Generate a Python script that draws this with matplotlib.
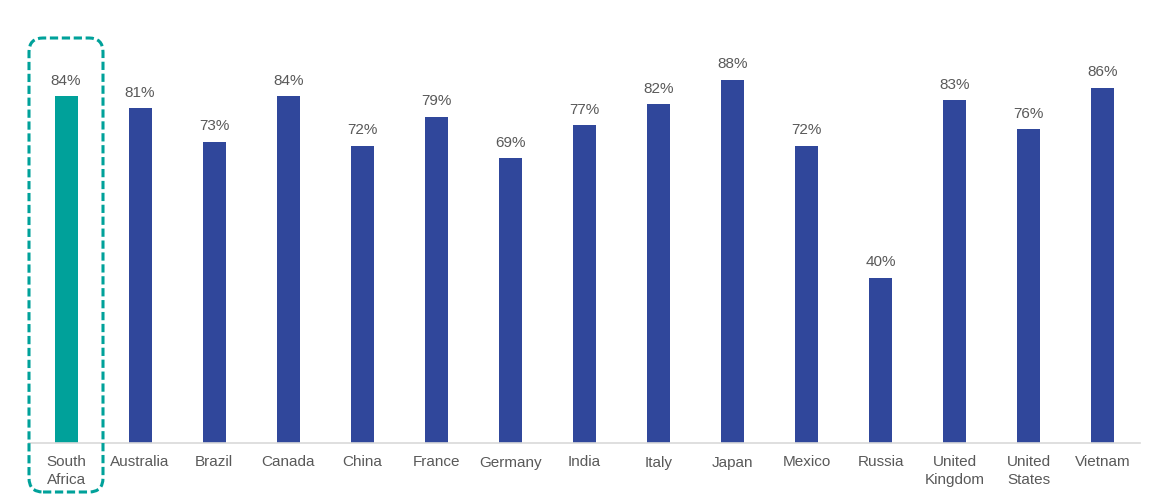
import matplotlib.pyplot as plt
from matplotlib.patches import FancyBboxPatch

plt.rcParams['font.family'] = ['Liberation Sans', 'DejaVu Sans']

# Daten
countries = ['South\nAfrica', 'Australia', 'Brazil', 'Canada', 'China', 'France', 'Germany',
             'India', 'Italy', 'Japan', 'Mexico', 'Russia', 'United\nKingdom',
             'United\nStates', 'Vietnam']
values = [84, 81, 73, 84, 72, 79, 69, 77, 82, 88, 72, 40, 83, 76, 86]
highlight = 'South\nAfrica'

teal = '#00A19A'
blue = '#30479B'
grey_text = '#595959'

fig = plt.figure(figsize=(11.69, 5.04), dpi=100)
W, H = 1169, 504
ax = fig.add_axes([29 / W, (H - 443) / H, (1140 - 29) / W, 413 / H])

colors = [teal if c == highlight else blue for c in countries]
x = range(len(countries))
bars = ax.bar(x, values, width=0.31, color=colors, zorder=2)

for b, v in zip(bars, values):
    ax.annotate(f'{v}%', (b.get_x() + b.get_width() / 2, v), xytext=(0, 6),
                textcoords='offset points', ha='center', va='bottom',
                fontsize=11, color=grey_text)

ax.set_xlim(-0.5, len(countries) - 0.5)
ax.set_ylim(0, 100)
ax.set_xticks(list(x))
ax.set_xticklabels(countries, fontsize=11, color=grey_text, linespacing=1.3, va='top')
ax.tick_params(axis='x', length=0, pad=9)
ax.set_yticks([])
for s in ['top', 'right', 'left']:
    ax.spines[s].set_visible(False)
ax.spines['bottom'].set_color('#D9D9D9')
ax.spines['bottom'].set_linewidth(1.2)

# Gestrichelter Rahmen um die hervorgehobene Kategorie
box = FancyBboxPatch((29 / W, (H - 492) / H), 74 / W, 454 / H,
                     boxstyle='round,pad=0,rounding_size=0.012',
                     transform=fig.transFigure, fill=False, edgecolor=teal,
                     linestyle=(0, (2.7, 1.2)), linewidth=2.2, clip_on=False,
                     mutation_aspect=W / H)
fig.patches.append(box)

plt.savefig('out.png', dpi=100)
